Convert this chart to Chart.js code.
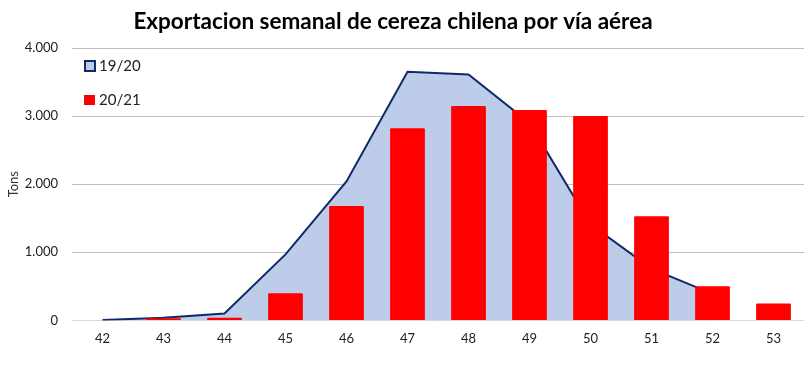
<!DOCTYPE html>
<html><head><meta charset="utf-8">
<script src="https://cdn.jsdelivr.net/npm/chart.js@4/dist/chart.umd.min.js"></script>
<style>html,body{margin:0;padding:0;background:#fff}#wrap{width:804px;height:368px;position:relative}</style>
</head><body><div id="wrap"><canvas id="c" width="804" height="368"></canvas></div>
<script>
const weeks = ['42','43','44','45','46','47','48','49','50','51','52','53'];
const season1920 = [5, 40, 100, 970, 2040, 3650, 3610, 2900, 1410, 760, 390, null];
const season2021 = [0, 30, 40, 400, 1680, 2820, 3150, 3090, 3000, 1530, 500, 250];
const yTicks = [0, 1000, 2000, 3000, 4000];
const FONT = 'Lato, "Open Sans", sans-serif';

const legendPlugin = {
  id: 'insideLegend',
  afterLayout(chart) {
    if (chart.titleBlock) { chart.titleBlock.left -= 24; chart.titleBlock.right -= 0; }
  },
  afterDraw(chart) {
    const ctx = chart.ctx;
    const items = [
      {label: chart.data.datasets[0].label, fill: chart.data.datasets[0].backgroundColor, stroke: chart.data.datasets[0].borderColor, y: 66},
      {label: chart.data.datasets[1].label, fill: chart.data.datasets[1].backgroundColor, stroke: null, y: 100}
    ];
    ctx.save();
    ctx.font = '15px ' + FONT;
    ctx.textBaseline = 'middle';
    ctx.textAlign = 'left';
    items.forEach(it => {
      ctx.fillStyle = it.fill;
      if (it.stroke) {
        ctx.fillRect(85, it.y - 5, 10, 10);
        ctx.strokeStyle = it.stroke; ctx.lineWidth = 2;
        ctx.strokeRect(85, it.y - 5, 10, 10);
      } else {
        ctx.fillRect(84, it.y - 5, 11, 10);
      }
      ctx.fillStyle = '#222';
      ctx.fillText(it.label, 99, it.y);
    });
    ctx.restore();
  }
};

new Chart(document.getElementById('c'), {
  type: 'bar',
  data: {
    labels: weeks,
    datasets: [
      {type: 'line', label: '19/20', data: season1920, borderColor: '#0E2A68', backgroundColor: '#BDCDE9', borderWidth: 2, fill: 'origin', pointRadius: 0, tension: 0, order: 2},
      {type: 'bar', label: '20/21', data: season2021, backgroundColor: '#FF0000', borderWidth: 0, categoryPercentage: 1.0, barPercentage: 0.57, borderRadius: 1, order: 1}
    ]
  },
  options: {
    responsive: false,
    animation: false,
    layout: {padding: {left: 6, right: 0, top: 0, bottom: 10}},
    plugins: {
      legend: {display: false},
      tooltip: {enabled: false},
      title: {display: true, text: 'Exportacion semanal de cereza chilena por vía aérea', color: '#000', font: {family: FONT, size: 22.5, weight: 'bold'}, padding: {top: 8, bottom: 13}}
    },
    scales: {
      x: {
        offset: true,
        grid: {display: false, drawTicks: false},
        border: {display: true, color: '#D9D9D9'},
        ticks: {color: '#222', font: {family: FONT, size: 13}, padding: 11, maxRotation: 0}
      },
      y: {
        min: 0, max: 4000,
        afterBuildTicks(scale) { scale.ticks = yTicks.map(v => ({value: v})); },
        afterFit(scale) { scale.width = 66; },
        grid: {color: '#BFBFBF', drawTicks: false},
        border: {display: false},
        ticks: {color: '#222', font: {family: FONT, size: 13}, padding: 14,
          callback: v => v.toLocaleString('de-DE')},
        title: {display: true, text: 'Tons', color: '#333', font: {family: FONT, size: 13}, padding: {top: 0, bottom: 0}}
      }
    }
  },
  plugins: [legendPlugin]
});
</script></body></html>
